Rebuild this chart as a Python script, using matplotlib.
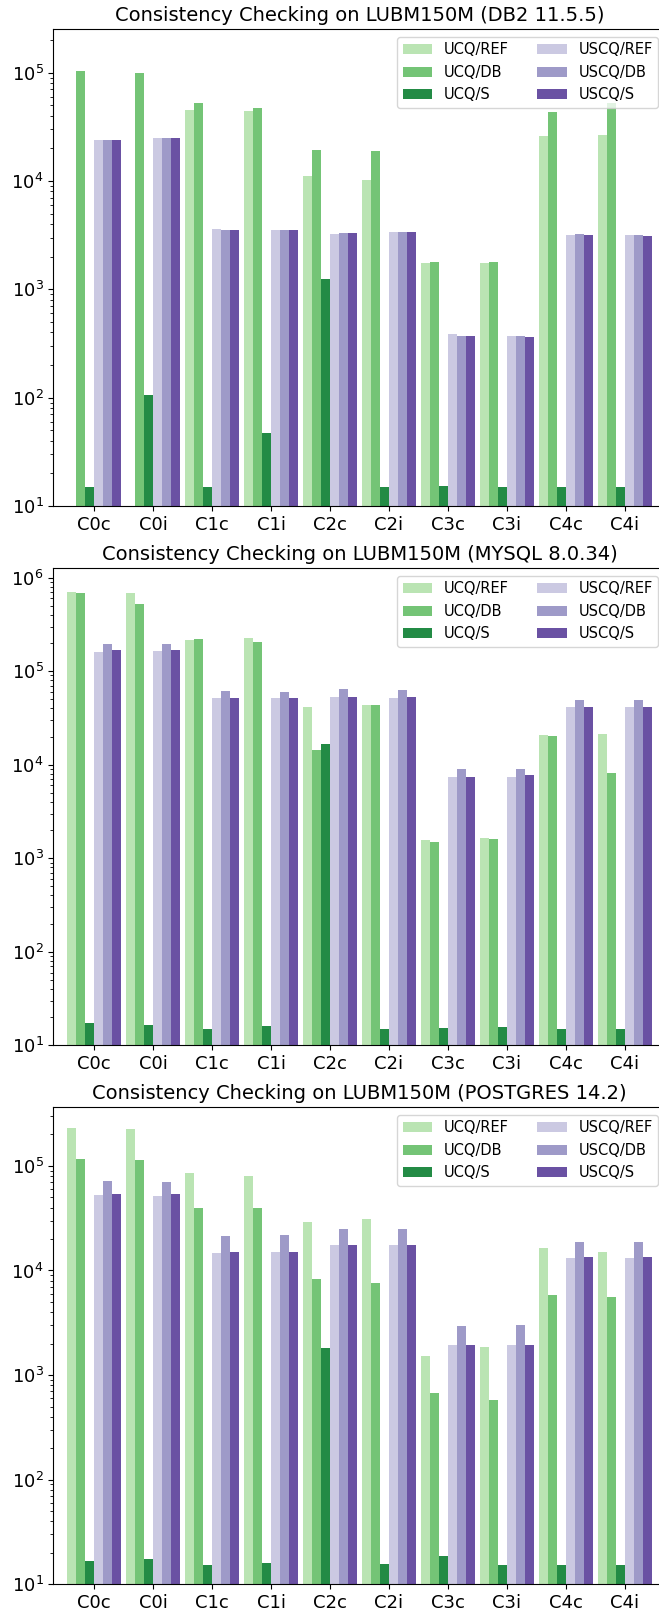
import numpy as np
import matplotlib
matplotlib.use("Agg")
import matplotlib.pyplot as plt

categories = ["C0c", "C0i", "C1c", "C1i", "C2c", "C2i", "C3c", "C3i", "C4c", "C4i"]
series = ["UCQ/REF", "UCQ/DB", "UCQ/S", "USCQ/REF", "USCQ/DB", "USCQ/S"]
colors = ["#bae4b3", "#74c476", "#238b45", "#cbc9e2", "#9e9ac8", "#6a51a3"]

titles = [
    "Consistency Checking on LUBM150M (DB2 11.5.5)",
    "Consistency Checking on LUBM150M (MYSQL 8.0.34)",
    "Consistency Checking on LUBM150M (POSTGRES 14.2)",
]

# DB2 11.5.5
db2_ucq_ref = [np.nan, np.nan, 45300, 44000, 11100, 10300, 1735, 1745, 25900, 26700]
db2_ucq_db = [103000, 98600, 52000, 47600, 19500, 18800, 1772, 1800, 43300, 53000]
db2_ucq_s = [15, 106, 15, 46.7, 1256, 15, 15.4, 15, 15, 15]
db2_uscq_ref = [23900, 24800, 3640, 3510, 3240, 3350, 388, 372, 3190, 3140]
db2_uscq_db = [23900, 24800, 3560, 3510, 3280, 3400, 374, 372, 3240, 3140]
db2_uscq_s = [24000, 24800, 3560, 3510, 3330, 3400, 374, 361, 3190, 3090]

# MYSQL 8.0.34
my_ucq_ref = [708000, 678000, 217000, 226000, 41900, 43300, 1556, 1651, 20700, 21300]
my_ucq_db = [690000, 526000, 223000, 203000, 14200, 43300, 1503, 1623, 20400, 8150]
my_ucq_s = [17.2, 16.3, 15, 16, 16700, 15, 15.4, 15.6, 15, 15]
my_uscq_ref = [160000, 163000, 52100, 52100, 53000, 52100, 7410, 7410, 41100, 41900]
my_uscq_db = [193000, 193000, 60700, 59700, 64900, 62200, 8930, 9080, 48700, 49500]
my_uscq_s = [167000, 167000, 52100, 52100, 53000, 53000, 7410, 7670, 41900, 41900]

# POSTGRES 14.2
pg_ucq_ref = [229000, 226000, 85300, 80800, 28900, 31200, 1531, 1837, 16300, 15000]
pg_ucq_db = [117000, 114000, 39500, 39500, 8300, 7570, 668, 574, 5810, 5630]
pg_ucq_s = [16.8, 17.3, 15.2, 16.1, 1800, 15.6, 18.8, 15.2, 15.2, 15.2]
pg_uscq_ref = [52400, 52000, 14800, 15000, 17400, 17400, 1954, 1954, 13100, 13100]
pg_uscq_db = [71000, 69900, 21300, 21700, 24800, 24800, 2923, 2990, 18700, 18700]
pg_uscq_s = [53600, 54400, 15000, 15000, 17600, 17600, 1954, 1954, 13400, 13400]

panels = [
    [db2_ucq_ref, db2_ucq_db, db2_ucq_s, db2_uscq_ref, db2_uscq_db, db2_uscq_s],
    [my_ucq_ref, my_ucq_db, my_ucq_s, my_uscq_ref, my_uscq_db, my_uscq_s],
    [pg_ucq_ref, pg_ucq_db, pg_ucq_s, pg_uscq_ref, pg_uscq_db, pg_uscq_s],
]
ytops = [10 ** 5.4, 10 ** 6.1, 10 ** 5.56]

W, H = 659, 1612
fig = plt.figure(figsize=(W / 100, H / 100), dpi=100)

# axes boxes in pixels: (left, top, bottom)
boxes = [(53.3, 29.3, 506.0), (53.3, 568.3, 1045.3), (53.3, 1107.3, 1584.3)]
right_px = 665.7

x = np.arange(len(categories))
bw = 0.15
for k, (vals, title, ytop, box) in enumerate(zip(panels, titles, ytops, boxes)):
    l, t, b = box
    ax = fig.add_axes([l / W, 1 - b / H, (right_px - l) / W, (b - t) / H])
    for i, (name, v, c) in enumerate(zip(series, vals, colors)):
        ax.bar(x + (i - 2.5) * bw, np.array(v, dtype=float), width=bw,
               color=c, label=name, log=True)
    ax.set_yscale("log")
    ax.set_ylim(10, ytop)
    ax.set_xlim(-0.69, len(categories) - 1 + 0.69)
    ax.set_xticks(x)
    ax.set_xticklabels(categories)
    ax.tick_params(axis="both", labelsize=13)
    ax.set_title(title, fontsize=14)
    ax.legend(loc="upper right", ncol=2, fontsize=10.5)

fig.savefig("out.png", dpi=100)
